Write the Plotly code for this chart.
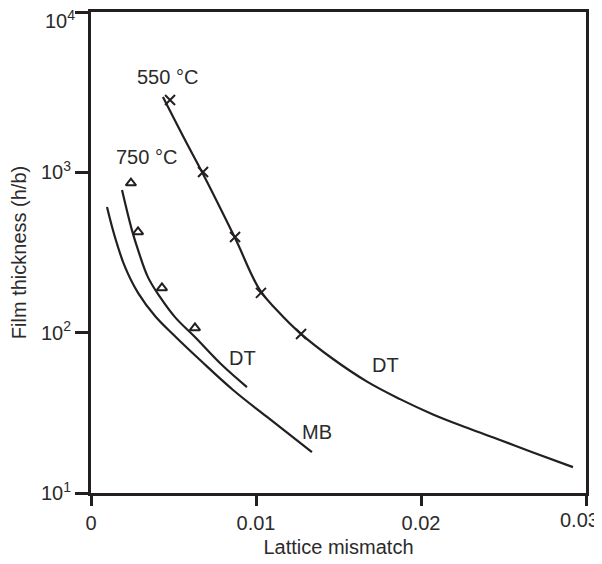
import plotly.graph_objects as go

# 550 °C data (crosses)
x_550 = [0.00479, 0.00679, 0.00873, 0.0103, 0.01273]
y_550 = [2825, 1004, 395, 177, 98]

# 750 °C data (triangles)
x_750 = [0.00242, 0.00285, 0.0043, 0.0063]
y_750 = [857, 425, 190, 107]

# DT curve for 550 °C
x_dt550 = [0.00436, 0.0057, 0.00679, 0.00873, 0.01024, 0.01127, 0.01267, 0.01467, 0.01673,
           0.01873, 0.02073, 0.02279, 0.02479, 0.02679, 0.02921]
y_dt550 = [2951, 1591, 976, 389, 184, 138, 99.4, 68.5, 49.5, 38.5, 30.9, 25.5, 21.4, 17.9, 14.5]

# DT curve for 750 °C
x_dt750 = [0.00188, 0.00248, 0.00285, 0.00345, 0.00418, 0.00509, 0.0063, 0.00794, 0.00945]
y_dt750 = [775, 436, 328, 222, 167, 125, 93.9, 62.8, 45.8]

# MB curve
x_mb = [0.00097, 0.00145, 0.00206, 0.00285, 0.00388, 0.00509, 0.00661, 0.00861, 0.01067, 0.01339]
y_mb = [608, 395, 257, 177, 127, 95, 67.5, 43.9, 29.8, 18.0]

ink = "#231f20"
txt = "#2b2b2b"
font = "Liberation Sans, Arial, sans-serif"
fs = 20
tf = dict(size=fs, color=txt, family=font)

fig = go.Figure()

for xs, ys in [(x_dt550, y_dt550), (x_dt750, y_dt750), (x_mb, y_mb)]:
    fig.add_trace(go.Scatter(x=xs, y=ys, mode="lines",
                             line=dict(color=ink, width=2.2, shape="spline", smoothing=1.1)))

fig.add_trace(go.Scatter(x=x_550, y=y_550, mode="markers",
                         marker=dict(symbol="x-thin-open", size=10, color=ink, line=dict(color=ink, width=2))))
fig.add_trace(go.Scatter(x=x_750, y=y_750, mode="markers",
                         marker=dict(symbol="triangle-up-open", size=9, color=ink, line=dict(color=ink, width=2))))

# curve labels (x, log10 y)
labels = [("550 °C", 0.00461, 3.594), ("750 °C", 0.00339, 3.095),
          ("DT", 0.00921, 1.842), ("DT", 0.01782, 1.798), ("MB", 0.0137, 1.380)]
for t, x, ly in labels:
    fig.add_annotation(x=x, y=ly, text=t, showarrow=False, font=tf)

# end tick labels drawn as annotations so they stay inside the page
fig.add_annotation(xref="paper", yref="paper", x=0, y=1, xanchor="right", yanchor="top",
                   xshift=-15, yshift=6, borderpad=0, text="10<sup>4</sup>", showarrow=False, font=tf)
fig.add_annotation(xref="paper", yref="paper", x=1, y=0, xanchor="right", yanchor="top",
                   xshift=15, yshift=-14, text="0.03", showarrow=False, font=tf)

fig.update_xaxes(range=[0, 0.03], tickvals=[0, 0.01, 0.02, 0.03], ticktext=["0", "0.01", "0.02", ""],
                 showline=True, linecolor=ink, linewidth=3, mirror=True,
                 ticks="outside", ticklen=10, tickwidth=3, tickcolor=ink,
                 showgrid=False, zeroline=False, automargin=False,
                 tickfont=tf,
                 title=dict(text="Lattice mismatch", font=tf, standoff=7))
fig.update_yaxes(type="log", range=[1, 4], tickvals=[10, 100, 1000, 10000],
                 ticktext=["10<sup>1</sup>", "10<sup>2</sup>", "10<sup>3</sup>", ""],
                 showline=True, linecolor=ink, linewidth=3, mirror=True,
                 ticks="outside", ticklen=13, tickwidth=3, tickcolor=ink,
                 showgrid=False, zeroline=False, automargin=False,
                 tickfont=tf,
                 title=dict(text="Film thickness (h/b)", font=tf, standoff=20))

# page body adds an 8 px offset, so the figure is 8 px smaller than the window
fig.update_layout(width=594, height=556, showlegend=False,
                  plot_bgcolor="white", paper_bgcolor="white",
                  margin=dict(l=83, r=16, t=4, b=71))

fig.write_html("out.html")
